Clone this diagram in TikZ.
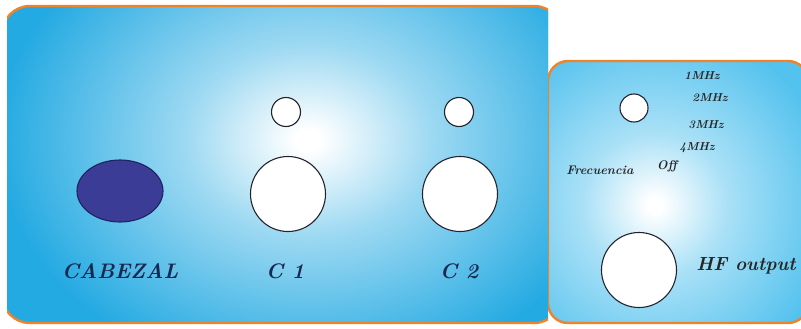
\documentclass[tikz,border=0pt]{standalone}
\usepackage{fontspec}
\definecolor{panelblue}{RGB}{36,170,226}
\definecolor{panelblueB}{RGB}{84,194,238}
\pgfdeclareradialshading{leftshade}{\pgfpoint{0bp}{0bp}}{color(0bp)=(white); color(1bp)=(white); color(10bp)=(panelblue!45!white); color(25bp)=(panelblue); color(50bp)=(panelblue)}
\pgfdeclareradialshading{rightshade}{\pgfpoint{0bp}{0bp}}{color(0bp)=(white); color(1bp)=(white); color(10bp)=(panelblueB!50!white); color(25bp)=(panelblueB); color(50bp)=(panelblueB)}
\begin{document}
\begin{tikzpicture}[x=1pt,y=-1pt,
  panelborder/.style={draw=borderorange, line width=2.4pt},
  hole/.style={draw=holeline, line width=1.1pt, fill=white},
  biglabel/.style={text=labelnavy, font=\fontsize{21}{21}\selectfont\bfseries\itshape, inner sep=0pt},
  smalllabel/.style={text=black!85, font=\fontsize{11.5}{11.5}\selectfont\bfseries\itshape, inner sep=0pt}]
\definecolor{borderorange}{RGB}{240,130,40}
\definecolor{holeline}{RGB}{35,35,45}
\definecolor{labelnavy}{RGB}{25,40,80}
\definecolor{cabezalblue}{RGB}{58,60,150}
\definecolor{cabezalline}{RGB}{30,35,95}
\useasboundingbox (0,0) rectangle (801,329);
% left panel
\begin{scope}
  \clip (7,0) rectangle (548,329);
  \begin{scope}
    \clip[rounded corners=28pt] (2,6) rectangle (562,323);
    \fill[panelblue] (0,0) rectangle (801,329);
    \shade[shading=leftshade] (308,140) ellipse [x radius=310, y radius=240];
  \end{scope}
  \draw[panelborder, rounded corners=28pt] (2,6) rectangle (562,323);
\end{scope}
% right panel
\begin{scope}
  \clip (548,0) rectangle (801,329);
  \begin{scope}
    \clip[rounded corners=20pt] (548,61) rectangle (808,323);
    \fill[panelblueB] (540,0) rectangle (801,329);
    \shade[shading=rightshade] (655,205) ellipse [x radius=180, y radius=180];
  \end{scope}
  \draw[panelborder, rounded corners=20pt] (548,61) rectangle (808,323);
\end{scope}
% left panel elements
\draw[draw=cabezalline, line width=1.1pt, fill=cabezalblue] (120,191) ellipse [x radius=43, y radius=31];
\node[hole, circle, minimum size=29pt, inner sep=0pt] (c1s) at (286,112) {};
\node[hole, circle, minimum size=75pt, inner sep=0pt] (c1b) at (288,194) {};
\node[hole, circle, minimum size=29pt, inner sep=0pt] (c2s) at (459,112) {};
\node[hole, circle, minimum size=75pt, inner sep=0pt] (c2b) at (460,194) {};
\node[biglabel] (cab) at (120,271) {CABEZAL};
\node[biglabel] (lc1) at (285,271) {C 1};
\node[biglabel] (lc2) at (459,271) {C 2};
% right panel elements
\node[hole, circle, minimum size=28pt, inner sep=0pt] (fs) at (634,108) {};
\node[hole, circle, minimum size=75pt, inner sep=0pt] (hf) at (639,270) {};
\node[smalllabel] (m1) at (702,76) {1MHz};
\node[smalllabel] (m2) at (710,98) {2MHz};
\node[smalllabel] (m3) at (706,125) {3MHz};
\node[smalllabel] (m4) at (697,148) {4MHz};
\node[smalllabel, font=\fontsize{12.5}{12.5}\selectfont\bfseries\itshape] (fr) at (600,170) {Frecuencia};
\node[smalllabel, font=\fontsize{12.5}{12.5}\selectfont\bfseries\itshape] (off) at (667,166) {Off};
\node[biglabel, text=black!85, font=\fontsize{19}{19}\selectfont\bfseries\itshape] (hfo) at (746,266) {HF output};
\end{tikzpicture}
\end{document}
